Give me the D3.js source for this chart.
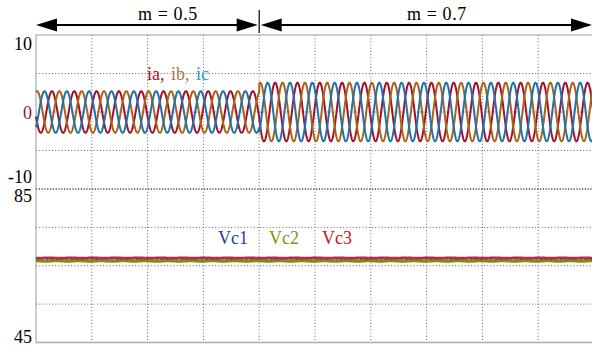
<!DOCTYPE html>
<html>
<head>
<meta charset="utf-8">
<script src="https://cdn.jsdelivr.net/npm/d3@7"></script>
<style>
  html, body { margin: 0; padding: 0; background: #fff; }
  svg { display: block; }
  svg text { font-family: "Liberation Serif", serif; }
</style>
</head>
<body>
<div id="chart"></div>
<script>
// time axis (s): 10 divisions of 0.05 s
const timeTicks = [0, 0.05, 0.1, 0.15, 0.2, 0.25, 0.3, 0.35, 0.4, 0.45, 0.5];
// modulation index segments
const segStart = [0, 0.2];
const segEnd = [0.2, 0.5];
const segLabel = ["m = 0.5", "m = 0.7"];
const segLabelX = [168, 437];
const segAmp = [2.7, 3.8];          // current peak (A)
// three-phase current
const freqHz = 50;
const phase0Deg = 193;
const phaseNames = ["ia", "ib", "ic"];
const phaseShiftDeg = [0, -120, 120];
const phaseColors = ["#a3112a", "#a8651a", "#1f72ab"];
const phaseTextColors = ["#a3112a", "#a8784a", "#2a9ad0"];
// capacitor voltages
const vcNames = ["Vc1", "Vc2", "Vc3"];
const vcLevel = [66.7, 66.3, 67.05];
const vcRipple = [0.08, 0.06, 0.05];
const vcColors = ["#3553c0", "#8a8a08", "#c2264a"];
const vcTextColors = ["#1d3f9c", "#8c8c14", "#c8141e"];
const vcLabelX = [218, 269, 322];
// y ticks
const curTicks = [10, 0, -10];
const curGrid = [-5, 0, 5];
const vTicks = [85, 45];
const vGrid = [55, 65, 75];

const width = 592, height = 347;
const left = 36, right = 594;
const topA = 35, botA = 189, topB = 189, botB = 342.5;

const svg = d3.select("#chart").append("svg")
  .attr("width", width).attr("height", height);

const x = d3.scaleLinear().domain([0, 0.5]).range([left, right]);
const yI = d3.scaleLinear().domain([-10, 10]).range([botA, topA]);
const yV = d3.scaleLinear().domain([45, 85]).range([botB, topB]);

// grid
const grid = svg.append("g").attr("stroke", "#666").attr("stroke-width", 1)
  .attr("stroke-dasharray", "1,2.2").attr("fill", "none");
grid.selectAll("line.v").data(timeTicks.slice(1)).join("line")
  .attr("x1", d => x(d)).attr("x2", d => x(d)).attr("y1", topA).attr("y2", botB);
grid.selectAll("line.hi").data(curGrid).join("line")
  .attr("x1", left).attr("x2", right).attr("y1", d => yI(d)).attr("y2", d => yI(d));
grid.selectAll("line.hv").data(vGrid).join("line")
  .attr("x1", left).attr("x2", right).attr("y1", d => yV(d)).attr("y2", d => yV(d));

// frame
svg.append("line").attr("x1", left).attr("x2", right).attr("y1", topA).attr("y2", topA)
  .attr("stroke", "#999").attr("stroke-width", 1);
svg.append("line").attr("x1", left).attr("x2", right).attr("y1", botA).attr("y2", botA)
  .attr("stroke", "#444").attr("stroke-width", 1.6).attr("stroke-dasharray", "1.2,1.6");
svg.append("line").attr("x1", left).attr("x2", right).attr("y1", botB).attr("y2", botB)
  .attr("stroke", "#aaa").attr("stroke-width", 1.5);
svg.append("line").attr("x1", left).attr("x2", left).attr("y1", topA).attr("y2", botB)
  .attr("stroke", "#999").attr("stroke-width", 1);

// currents
function ampAt(t) {
  for (let i = 0; i < segStart.length; i++) if (t >= segStart[i] && t <= segEnd[i]) return segAmp[i];
  return segAmp[segAmp.length - 1];
}
const nSamples = 3000;
const times = d3.range(nSamples + 1).map(i => 0.5 * i / nSamples);
const curLine = d3.line().x(d => x(d[0])).y(d => yI(d[1]));
const cur = svg.append("g").attr("fill", "none").attr("stroke-width", 2);
phaseNames.forEach((name, k) => {
  const pts = times.map(t => [t, ampAt(t) * Math.sin(2 * Math.PI * freqHz * t + (phase0Deg + phaseShiftDeg[k]) * Math.PI / 180)]);
  cur.append("path").datum(pts).attr("stroke", phaseColors[k]).attr("d", curLine);
});

// capacitor voltages (Vc2 under, Vc3 on top)
const vLine = d3.line().x(d => x(d[0])).y(d => yV(d[1]));
const vg = svg.append("g").attr("fill", "none");
[1, 2, 0].forEach(k => {
  const pts = times.map(t => [t, vcLevel[k] + vcRipple[k] * Math.sin(2 * Math.PI * freqHz * t + k * 2.1)]);
  vg.append("path").datum(pts).attr("stroke", vcColors[k])
    .attr("stroke-width", k === 1 ? 3.5 : k === 2 ? 2.5 : 1.2)
    .attr("stroke-dasharray", k === 0 ? "2,3" : null)
    .attr("d", vLine);
});

// y axes
const axI = svg.append("g").attr("transform", `translate(${left},0)`)
  .call(d3.axisLeft(yI).tickValues(curTicks).tickSize(0).tickPadding(4).tickFormat(d => String(d)));
const axV = svg.append("g").attr("transform", `translate(${left},0)`)
  .call(d3.axisLeft(yV).tickValues(vTicks).tickSize(0).tickPadding(4).tickFormat(d => String(d)));
[axI, axV].forEach(a => {
  a.select(".domain").remove();
  a.attr("font-family", null);
  a.selectAll("text").attr("font-size", 18).attr("fill", "#000");
});
axI.selectAll("text").attr("dy", d => d === 10 ? "0.8em" : d === -10 ? "-0.36em" : "0.35em")
  .attr("fill", d => d === 0 ? "#a3112a" : "#000");
axV.selectAll("text").attr("dy", d => d === 85 ? "0.68em" : "0em");

// labels
const lab = svg.append("g").attr("font-size", 18);
const il = lab.append("text").attr("x", 147).attr("y", 80).attr("word-spacing", 2);
phaseNames.forEach((n, k) => {
  il.append("tspan").attr("fill", phaseTextColors[k]).text(n);
  if (k < phaseNames.length - 1) il.append("tspan").attr("fill", phaseTextColors[k]).text(", ");
});
vcNames.forEach((n, k) => {
  lab.append("text").attr("x", vcLabelX[k]).attr("y", 244).attr("fill", vcTextColors[k]).text(n);
});

// mode arrows
const arr = svg.append("g");
const arrowY = 25, headL = 21, headH = 6.5;
segLabel.forEach((s, i) => {
  const x0 = x(segStart[i]) + (i === 0 ? 0 : 1.5);
  const x1 = Math.min(x(segEnd[i]), width) - (i === 0 ? 1.5 : 0);
  arr.append("line").attr("x1", x0 + 5).attr("x2", x1 - 5).attr("y1", arrowY).attr("y2", arrowY)
    .attr("stroke", "#000").attr("stroke-width", 2);
  arr.append("path").attr("fill", "#000")
    .attr("d", `M${x0},${arrowY}L${x0 + headL},${arrowY - headH}L${x0 + headL},${arrowY + headH}Z`);
  arr.append("path").attr("fill", "#000")
    .attr("d", `M${x1},${arrowY}L${x1 - headL},${arrowY - headH}L${x1 - headL},${arrowY + headH}Z`);
  arr.append("text").attr("x", segLabelX[i]).attr("y", 20)
    .attr("text-anchor", "middle").attr("font-size", 18).attr("letter-spacing", 0.6)
    .attr("fill", "#000").text(s);
});
arr.append("line").attr("x1", x(segEnd[0])).attr("x2", x(segEnd[0])).attr("y1", 10).attr("y2", 33)
  .attr("stroke", "#000").attr("stroke-width", 1.2);
</script>
</body>
</html>
